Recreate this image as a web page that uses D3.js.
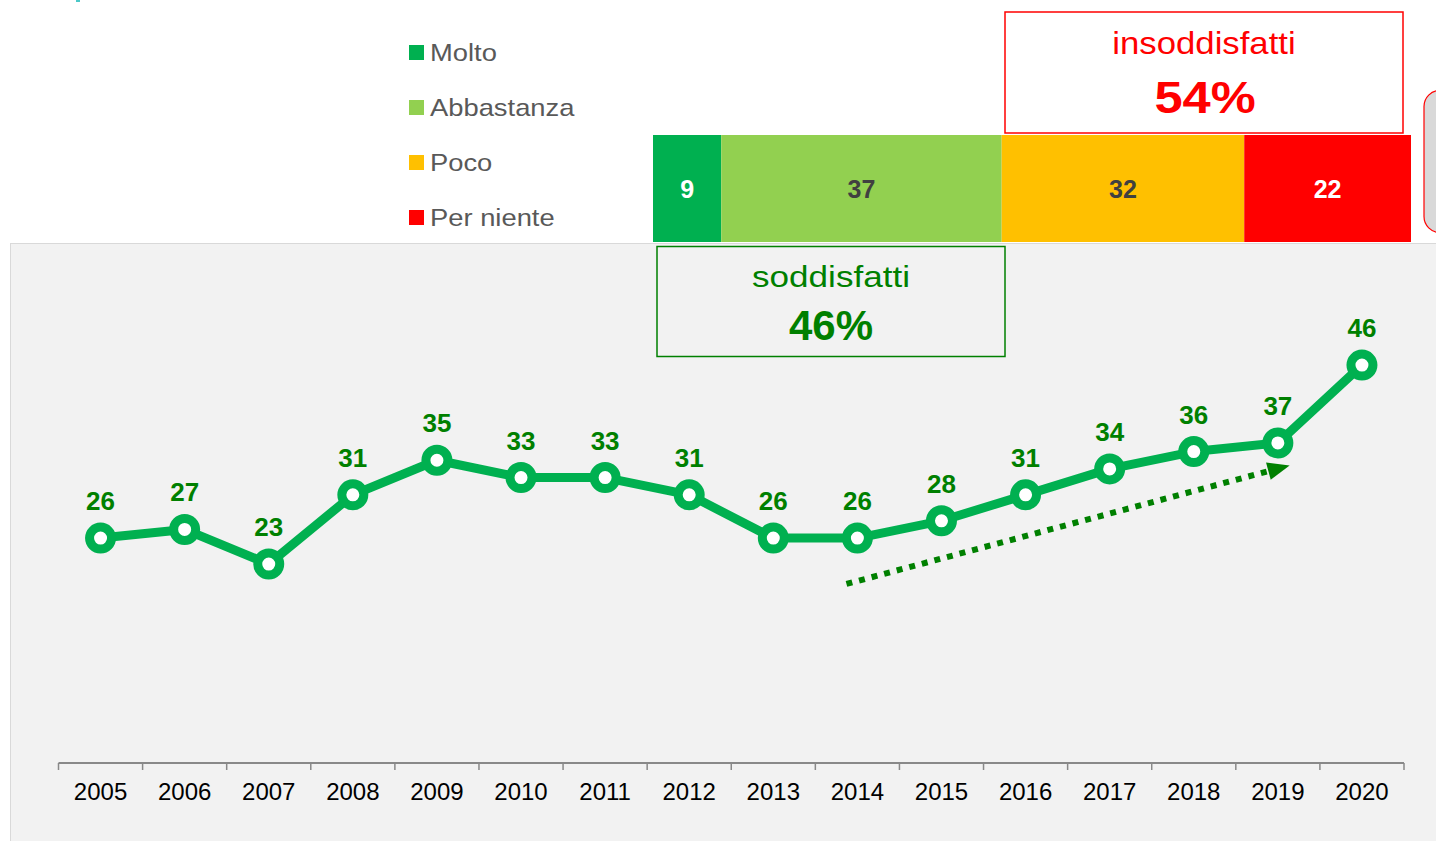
<!DOCTYPE html>
<html>
<head>
<meta charset="utf-8">
<script src="https://cdn.jsdelivr.net/npm/d3@7"></script>
<style>
  html, body { margin: 0; padding: 0; background: #ffffff; }
  svg { display: block; font-family: "Liberation Sans", Arial, sans-serif; }
</style>
</head>
<body>
<svg id="chart" width="1436" height="841"></svg>
<script>
// Yearly share of satisfied respondents
const years = ["2005","2006","2007","2008","2009","2010","2011","2012","2013","2014","2015","2016","2017","2018","2019","2020"];
const satisfied = [26, 27, 23, 31, 35, 33, 33, 31, 26, 26, 28, 31, 34, 36, 37, 46];

// Latest breakdown of the answers
const levels = ["Molto", "Abbastanza", "Poco", "Per niente"];
const levelValues = [9, 37, 32, 22];
const levelColors = ["#00b050", "#92d050", "#ffc000", "#ff0000"];
const levelTextColors = ["#ffffff", "#404040", "#404040", "#ffffff"];

// Summary boxes
const summaryLabels = ["soddisfatti", "insoddisfatti"];
const summaryValues = [levelValues[0] + levelValues[1], levelValues[2] + levelValues[3]];

// Trend arrow, in data terms (year, offset in steps, value)
const trendStart = { year: "2014", offset: -0.13, value: 20.7 };
const trendEnd   = { year: "2019", offset: 0.14,  value: 34.4 };

const svg = d3.select("#chart");
const GREEN = "#00b050", DARK_GREEN = "#008000", RED = "#ff0000";

// text helper with optional horizontal stretch
function label(parent, x, y, str, opts) {
  const sx = opts.sx || 1;
  return parent.append("text")
    .attr("transform", `translate(${x},${y}) scale(${sx},1)`)
    .attr("text-anchor", opts.anchor || "start")
    .attr("font-size", opts.size)
    .attr("font-weight", opts.weight || "normal")
    .attr("fill", opts.fill)
    .text(str);
}

// small accent at the top edge
svg.append("rect").attr("x", 76).attr("y", 0).attr("width", 4).attr("height", 2).attr("fill", "#4bc8c8");

// grey plot panel
svg.append("rect")
  .attr("x", 10.5).attr("y", 243.5).attr("width", 1440).attr("height", 620)
  .attr("fill", "#f2f2f2").attr("stroke", "#d9d9d9").attr("stroke-width", 1);

// partly visible rounded box at the right edge
svg.append("rect")
  .attr("x", 1424).attr("y", 90.5).attr("width", 60).attr("height", 142).attr("rx", 16)
  .attr("fill", "#d9d9d9").attr("stroke", RED).attr("stroke-width", 1.2);

// ---------- stacked bar ----------
const barX = d3.scaleLinear().domain([0, d3.sum(levelValues)]).range([653, 1411]);
const barTop = 135, barBottom = 242;
const stacked = levelValues.map((v, i) => ({
  v, i, start: d3.sum(levelValues.slice(0, i)), end: d3.sum(levelValues.slice(0, i + 1))
}));
const barG = svg.append("g");
barG.selectAll("rect").data(stacked).join("rect")
  .attr("x", d => barX(d.start)).attr("y", barTop)
  .attr("width", d => barX(d.end) - barX(d.start)).attr("height", barBottom - barTop)
  .attr("fill", d => levelColors[d.i]);
barG.selectAll("text").data(stacked).join("text")
  .attr("x", d => (barX(d.start) + barX(d.end)) / 2).attr("y", 198)
  .attr("text-anchor", "middle").attr("font-size", 25).attr("font-weight", "bold")
  .attr("fill", d => levelTextColors[d.i]).text(d => d.v);

// ---------- legend ----------
const legend = svg.append("g");
levels.forEach((name, i) => {
  const yb = 60.5 + i * 55;
  legend.append("rect").attr("x", 409).attr("y", yb - 15.5).attr("width", 15).attr("height", 15)
    .attr("fill", levelColors[i]);
  label(legend, 430, yb, name, { size: 24, sx: 1.14, fill: "#595959" });
});

// ---------- summary boxes ----------
// satisfied (below the green part of the bar)
svg.append("rect").attr("x", 657).attr("y", 246.5).attr("width", 348).attr("height", 110)
  .attr("fill", "#f2f2f2").attr("stroke", DARK_GREEN).attr("stroke-width", 1.5);
label(svg, 831, 287, summaryLabels[0], { size: 30, sx: 1.17, anchor: "middle", fill: DARK_GREEN });
label(svg, 831, 340, summaryValues[0] + "%", { size: 42, weight: "bold", anchor: "middle", fill: DARK_GREEN });

// dissatisfied (above the warm part of the bar)
svg.append("rect").attr("x", 1005).attr("y", 12).attr("width", 398).attr("height", 121)
  .attr("fill", "#ffffff").attr("stroke", RED).attr("stroke-width", 1.5);
label(svg, 1204, 54, summaryLabels[1], { size: 31, sx: 1.12, anchor: "middle", fill: RED });
label(svg, 1205, 113, summaryValues[1] + "%", { size: 44, sx: 1.15, weight: "bold", anchor: "middle", fill: RED });

// ---------- line chart ----------
const x = d3.scaleBand().domain(years).range([58.5, 1404]).padding(0);
const y = d3.scaleLinear().domain([0, 50]).range([763, 330.5]);
const cx = yr => x(yr) + x.bandwidth() / 2;

const axis = d3.axisBottom(x).tickSize(0).tickPadding(0);
const axisG = svg.append("g").attr("transform", "translate(0,763)").call(axis);
axisG.select(".domain").attr("stroke", "#898989").attr("stroke-width", 2)
  .attr("d", `M${x.range()[0]},0H${x.range()[1]}`);
axisG.selectAll(".tick text").attr("font-size", 24).attr("fill", "#000000")
  .attr("font-family", "Liberation Sans, Arial, sans-serif").attr("dy", 0).attr("y", 37);
// tick marks on the band boundaries
const bounds = years.map(d => x(d)).concat([x.range()[1]]);
axisG.selectAll(".bound").data(bounds).join("line").attr("class", "bound")
  .attr("x1", d => d).attr("x2", d => d).attr("y1", 0).attr("y2", 7)
  .attr("stroke", "#898989").attr("stroke-width", 1.5);

const pts = years.map((yr, i) => ({ yr, v: satisfied[i] }));
svg.append("path").datum(pts)
  .attr("fill", "none").attr("stroke", GREEN).attr("stroke-width", 9).attr("stroke-linejoin", "round")
  .attr("d", d3.line().x(d => cx(d.yr)).y(d => y(d.v)));

svg.append("g").selectAll("circle").data(pts).join("circle")
  .attr("cx", d => cx(d.yr)).attr("cy", d => y(d.v)).attr("r", 11)
  .attr("fill", "#ffffff").attr("stroke", GREEN).attr("stroke-width", 9);

svg.append("g").selectAll("text").data(pts).join("text")
  .attr("x", d => cx(d.yr)).attr("y", d => y(d.v) - 28)
  .attr("text-anchor", "middle").attr("font-size", 26).attr("font-weight", "bold")
  .attr("fill", DARK_GREEN).text(d => d.v);

// dotted trend arrow
const step = x.step();
const ax1 = cx(trendStart.year) + trendStart.offset * step, ay1 = y(trendStart.value);
const ax2 = cx(trendEnd.year) + trendEnd.offset * step, ay2 = y(trendEnd.value);
const ang = Math.atan2(ay2 - ay1, ax2 - ax1);
const headLen = 22, headHalf = 9;
const bx = ax2 - headLen * Math.cos(ang), by = ay2 - headLen * Math.sin(ang);
svg.append("line").attr("x1", ax1).attr("y1", ay1).attr("x2", bx).attr("y2", by)
  .attr("stroke", DARK_GREEN).attr("stroke-width", 6).attr("stroke-dasharray", "6 7");
const nx = -Math.sin(ang), ny = Math.cos(ang);
svg.append("path")
  .attr("d", `M${ax2},${ay2}L${bx + nx * headHalf},${by + ny * headHalf}L${bx - nx * headHalf},${by - ny * headHalf}Z`)
  .attr("fill", DARK_GREEN);
</script>
</body>
</html>
